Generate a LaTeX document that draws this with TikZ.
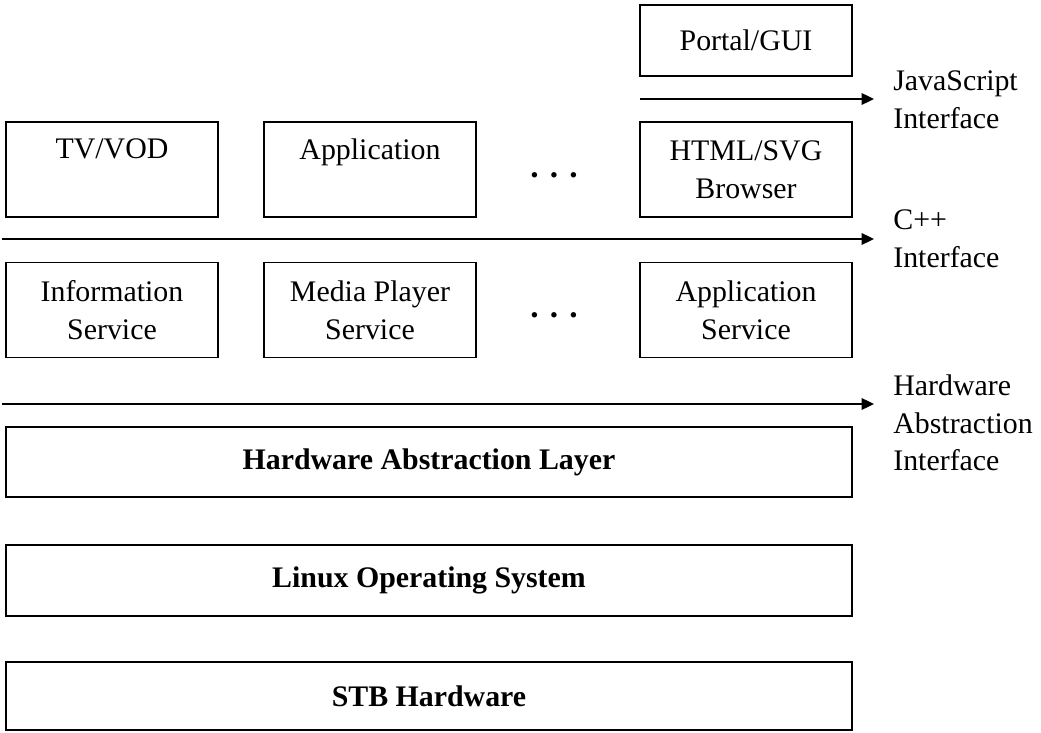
\documentclass[tikz,border=0pt]{standalone}
\usepackage{fontspec}
\setmainfont{Liberation Serif}
\usepackage{tikz}
\usetikzlibrary{positioning,calc,arrows.meta}

\tikzset{
    layerbox/.style={draw, line width=1pt, minimum width=4.24cm, minimum height=1.9cm, align=center, inner sep=0pt},
    widebox/.style={draw, line width=1pt, minimum width=16.92cm, minimum height=1.4cm, font=\fontsize{17}{21.5}\selectfont\bfseries, inner sep=0pt},
    iface/.style={line width=1.1pt, -{Triangle[length=7pt,width=6.5pt]}},
    ifacelabel/.style={anchor=west, align=left, inner sep=0pt},
    dotmark/.style={font=\fontsize{19}{21.5}\selectfont\bfseries}
}

\begin{document}
\begin{tikzpicture}[x=0.02cm, y=-0.02cm, font=\fontsize{17}{21.5}\selectfont]
    \useasboundingbox [fill=white] (0,0) rectangle (1041,733);

    % top layer
    \node [layerbox, minimum height=1.42cm] (portal) at (746,40.5) {Portal/GUI};
    \node [layerbox] (tvvod) at (112,169.5) {TV/VOD\\[-4.5pt]\strut};
    \node [layerbox] (app) at (370,169.5) {Application\\[-4.5pt]\strut};
    \node [dotmark] (dotsA) at (554,175) {.\,\,.\,\,.};
    \node [layerbox] (browser) at (746,169.5) {HTML/SVG\\Browser};

    % service layer
    \node [layerbox] (info) at (112,310) {Information\\Service};
    \node [layerbox] (media) at (370,310) {Media Player\\Service};
    \node [dotmark] (dotsB) at (554,315) {.\,\,.\,\,.};
    \node [layerbox] (appsvc) at (746,310) {Application\\Service};

    % bottom layers
    \node [widebox] (hal) at (429,462) {Hardware Abstraction Layer};
    \node [widebox, minimum height=1.42cm] (linux) at (429,580.5) {Linux Operating System};
    \node [widebox, minimum height=1.36cm] (stb) at (429,696) {STB Hardware};

    % interfaces
    \coordinate (jsL) at (640,99);
    \coordinate (jsR) at (874,99);
    \coordinate (cppL) at (2,239);
    \coordinate (cppR) at (874,239);
    \coordinate (halL) at (2,404);
    \coordinate (halR) at (874,404);
    \draw [iface] (jsL) -- (jsR);
    \draw [iface] (cppL) -- (cppR);
    \draw [iface] (halL) -- (halR);

    \node [ifacelabel] (jsText) at (893,100) {JavaScript\\Interface};
    \node [ifacelabel] (cppText) at (893,239) {C++\\Interface};
    \node [ifacelabel] (halText) at (893,423) {Hardware\\Abstraction\\Interface};
\end{tikzpicture}
\end{document}
